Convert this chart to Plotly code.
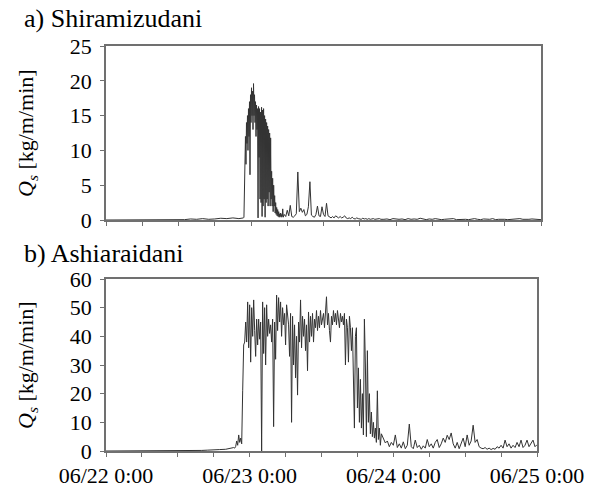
import pandas as pd
import plotly.graph_objects as go

# ---------------- data (hours after 06/22 0:00, Qs in kg/m/min) ----------------
START = "2006-06-22 00:00"
TICK_HOURS = [0, 24, 48, 72]
TICK_TEXT = ["06/22 0:00", "06/23 0:00", "06/24 0:00", "06/25 0:00"]

# a) Shiramizudani
A_H1 = [0, 11.5, 12, 13, 14, 15, 16, 17, 18, 19, 20, 21, 22]
A_Q1 = [0, 0, 0.1, 0.05, 0.15, 0.1, 0.2, 0.1, 0.15, 0.25, 0.2, 0.3, 0.2]
# 22.5 h .. 29.42 h, every 5 min
A_Q2 = [0.2, 0.3, 0.2, 0.3, 0.4, 7.5,
        9.5, 12, 8, 14, 11, 15,
        10, 16, 12, 17, 6.5, 18,
        14, 19, 15, 18.5, 13, 19.6,
        15, 18, 14, 17, 12, 16.5,
        13, 16, 0.3, 16.3, 9, 16,
        3, 15.5, 2.5, 16.2, 0.5, 15.8,
        2, 16, 3, 15, 0.4, 14.5,
        2.5, 14, 3, 13.5, 2, 13,
        4, 12.5, 2, 11.8, 3, 7,
        2, 6, 1.2, 5, 2, 3.5,
        1, 2.5, 0.8, 1.8, 0.6, 1.5,
        0.5, 1.2, 0.4, 0.9, 0.5, 1.0,
        0.4, 0.8, 0.5, 1.6, 0.4, 0.7]
# 29.5 h .. 45.75 h, every 15 min
A_Q3 = [0.8, 0.5, 1.4, 0.6, 2.1, 0.5, 0.4, 0.6, 0.9, 6.9,
        1.2, 1.7, 1.1, 1.5, 0.6, 0.8, 1.9, 5.5, 0.7, 0.5,
        0.4, 0.8, 2.0, 0.6, 0.5, 1.9, 0.8, 0.5, 2.4, 0.6,
        0.4, 0.3, 0.5, 0.3, 0.6, 0.4, 0.3, 0.5, 0.3, 0.4,
        0.6, 0.3, 0.2, 0.3, 0.2, 0.4, 0.2, 0.15, 0.3, 0.2,
        0.2, 0.1, 0.25, 0.15, 0.2, 0.1, 0.2, 0.1, 0.15, 0.2,
        0.1, 0.15, 0.1, 0.2, 0.1, 0.15]
# 46 h .. 72 h, every 30 min
A_Q4 = [0.1, 0.15, 0.05, 0.2, 0.1, 0.1, 0.15, 0.05, 0.2, 0.1,
        0.15, 0.1, 0.25, 0.1, 0.05, 0.15, 0.1, 0.2, 0.1, 0.05,
        0.1, 0.15, 0.1, 0.2, 0.05, 0.1, 0.15, 0.1, 0.05, 0.1,
        0.2, 0.1, 0.05, 0.15, 0.1, 0.1, 0.2, 0.05, 0.1, 0.15,
        0.1, 0.05, 0.1, 0.15, 0.1, 0.2, 0.1, 0.05, 0.1, 0.15,
        0.1, 0.1, 0.05]

# b) Ashiaraidani
B_H1 = [0, 12, 14, 16, 17, 18, 19, 20, 20.5, 21, 21.33]
B_Q1 = [0, 0, 0.1, 0.2, 0.3, 0.3, 0.5, 0.6, 0.8, 0.9, 1.2]
# 21.5 h .. 46.0 h, every 10 min
B_Q2 = [1.0, 1.6, 3.5, 2.0, 5.6, 3.0,
        4.5, 2.5, 21, 37, 38, 45,
        38, 52, 36, 51, 31, 50,
        40, 52.7, 42, 33, 46, 37,
        46, 39, 45, 0, 52, 34,
        50, 30, 51, 40, 46, 41,
        44, 38, 46, 8.5, 45, 32,
        54.4, 42, 53.5, 45, 52, 40,
        50, 44, 48, 37, 51, 46,
        44, 33, 48, 10, 47, 30,
        44, 25.5, 40, 19.5, 45, 38,
        52.7, 36, 47, 40, 46, 35,
        44, 28, 48.5, 38, 47, 40,
        48, 38, 46, 43, 49, 42,
        47, 43, 49, 44, 46, 48,
        43, 47, 53.8, 44, 48, 42,
        38, 47, 44, 49, 45, 48,
        44, 49, 46, 43, 48, 45,
        47, 44, 48, 30, 46, 43,
        31, 47, 43, 35, 43, 20,
        8, 40, 43, 15, 29, 10,
        25, 8, 20, 5.6, 46, 30,
        5, 35, 10, 20, 6, 13.6,
        5, 10, 4.5, 8, 3, 21,
        4, 8, 2, 6]
# 46.33 h .. 72 h, every 20 min
B_Q3 = [4.5, 2.8, 3.5, 1.5, 3.0, 2.0, 5.6, 1.2, 2.5, 1.0,
        3.2, 0.8, 2.0, 9.4, 1.5, 0.8, 3.8, 1.2, 2.0, 0.6,
        1.8, 1.0, 4.0, 1.5, 2.5, 1.0, 3.0, 4.0, 1.2, 2.5,
        4.5, 3.0, 5.5, 4.0, 6.3, 2.5, 1.0, 3.0, 0.8, 2.5,
        4.5, 1.5, 5.6, 2.0, 3.5, 9.0, 3.0, 4.0, 1.5, 1.0,
        0.8, 1.2, 0.6, 1.0, 0.5, 0.9, 0.6, 1.5, 1.0, 2.0,
        1.0, 3.8, 1.5, 2.5, 1.0, 2.0, 1.2, 3.0, 1.5, 3.8,
        1.2, 2.0, 3.8, 1.5, 2.5, 3.8, 1.5, 2.2]


def grid(start, step, n):
    return [start + i * step for i in range(n)]


a_hours = A_H1 + grid(22.5, 1 / 12, len(A_Q2)) + grid(29.5, 0.25, len(A_Q3)) + grid(46, 0.5, len(A_Q4))
a_vals = A_Q1 + A_Q2 + A_Q3 + A_Q4
b_hours = B_H1 + grid(21.5, 1 / 6, len(B_Q2)) + grid(46 + 1 / 3, 1 / 3, len(B_Q3))
b_vals = B_Q1 + B_Q2 + B_Q3

t0 = pd.Timestamp(START)
to_time = lambda hs: [t0 + pd.Timedelta(hours=h) for h in hs]

FONT = "Liberation Serif"
LINE_C = "#333333"
AX_C = "#707070"
W, H = 594, 488

fig = go.Figure()
fig.add_trace(go.Scatter(x=to_time(a_hours), y=a_vals, mode="lines",
                         line=dict(color=LINE_C, width=1), xaxis="x", yaxis="y", showlegend=False))
fig.add_trace(go.Scatter(x=to_time(b_hours), y=b_vals, mode="lines",
                         line=dict(color=LINE_C, width=1), xaxis="x2", yaxis="y2", showlegend=False))

xr = [t0, t0 + pd.Timedelta(hours=72)]
common_x = dict(type="date", range=xr, showline=True, linecolor=AX_C, linewidth=1.5, mirror=True,
                showgrid=False, zeroline=False, ticks="outside", ticklen=4, tickcolor=AX_C,
                automargin=False,
                tickvals=to_time(TICK_HOURS), ticktext=TICK_TEXT,
                minor=dict(ticks="outside", ticklen=4, tickcolor=AX_C, dtick=6 * 3600 * 1000, tick0=t0),
                tickfont=dict(family=FONT, size=22, color="black"))
common_y = dict(showline=True, linecolor=AX_C, linewidth=1.5, mirror=True, showgrid=False,
                zeroline=False, ticks="outside", ticklen=4, tickcolor=AX_C, automargin=False,
                tickfont=dict(family=FONT, size=22, color="black"), ticklabelstandoff=4)

top_d = [1 - 220 / H, 1 - 46 / H]
bot_d = [1 - 451 / H, 1 - 279 / H]

fig.update_layout(
    width=W, height=H, margin=dict(l=0, r=0, t=0, b=0, autoexpand=False),
    paper_bgcolor="white", plot_bgcolor="white",
    font=dict(family=FONT),
    xaxis=dict(common_x, domain=[106 / W, 541 / W], anchor="y", showticklabels=False),
    yaxis=dict(common_y, domain=top_d, anchor="x", range=[0, 25], dtick=5, tick0=0),
    xaxis2=dict(common_x, domain=[106 / W, 537 / W], anchor="y2"),
    yaxis2=dict(common_y, domain=bot_d, anchor="x2", range=[0, 60], dtick=10, tick0=0),
)

ytitle = "<i>Q<sub>s</sub></i> [kg/m/min]"
anns = [
    dict(text="a) Shiramizudani", x=22 / W, y=1 - 19 / H, xanchor="left", yanchor="middle",
         font=dict(family=FONT, size=26, color="black")),
    dict(text="b) Ashiaraidani", x=22 / W, y=1 - 254 / H, xanchor="left", yanchor="middle",
         font=dict(family=FONT, size=26, color="black")),
    dict(text=ytitle, x=27 / W, y=sum(top_d) / 2, textangle=-90, xanchor="center", yanchor="middle",
         font=dict(family=FONT, size=22, color="black")),
    dict(text=ytitle, x=27 / W, y=sum(bot_d) / 2, textangle=-90, xanchor="center", yanchor="middle",
         font=dict(family=FONT, size=22, color="black")),
]
for a in anns:
    a.update(xref="paper", yref="paper", showarrow=False)
fig.update_layout(annotations=anns)

fig.write_html("out.html")
